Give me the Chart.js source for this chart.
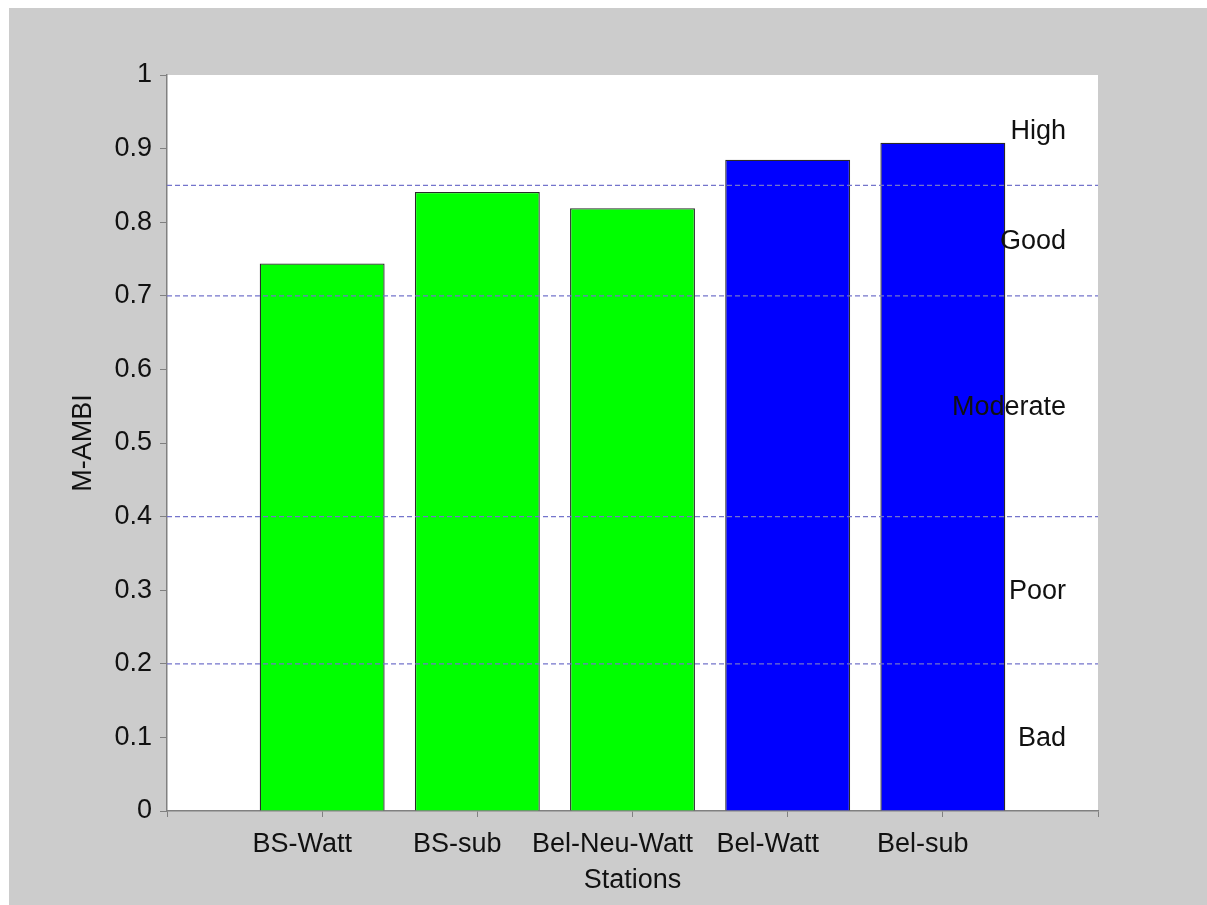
<!DOCTYPE html>
<html lang="en">
<head>
  <meta charset="UTF-8" />
  <title>M-AMBI per station</title>
  <script src="https://cdn.jsdelivr.net/npm/chart.js"></script>
  <style>
    html, body {
      margin: 0;
      padding: 0;
      background: #ffffff;
    }
    .frame {
      position: absolute;
      left: 9px;
      top: 8px;
      width: 1198px;
      height: 897px;
      background: #cccccc;
    }
  </style>
</head>
<body>
<div class="frame">
  <canvas id="ambiChart" width="1198" height="897"></canvas>
</div>

<script>
  // stations on the x axis (blank slots at both ends keep bars off the edges)
  const stations = ['', 'BS-Watt', 'BS-sub', 'Bel-Neu-Watt', 'Bel-Watt', 'Bel-sub', ''];
  const mAmbi = [null, 0.744, 0.841, 0.819, 0.885, 0.908, null];
  const barColours = [null, '#00ff00', '#00ff00', '#00ff00', '#0000ff', '#0000ff', null];

  // ecological status class boundaries and names (Bad .. High)
  const classLimits = [0, 0.2, 0.4, 0.7, 0.85, 1];
  const classNames = ['Bad', 'Poor', 'Moderate', 'Good', 'High'];
  const yTicks = [0, 0.1, 0.2, 0.3, 0.4, 0.5, 0.6, 0.7, 0.8, 0.9, 1];

  const font = { family: 'Arial, "Liberation Sans", sans-serif', size: 27 };

  // one dashed line for each inner boundary
  const boundaryLines = classLimits.slice(1, -1).map((v) => ({
    type: 'line',
    data: stations.map(() => v),
    borderColor: '#7474cc',
    borderWidth: 1.2,
    borderDash: [5, 3],
    pointRadius: 0,
    fill: false,
    order: 0,
  }));

  const plotBackground = {
    id: 'plotBackground',
    beforeDraw(chart) {
      const { ctx, chartArea } = chart;
      ctx.save();
      ctx.fillStyle = '#ffffff';
      ctx.fillRect(chartArea.left, chartArea.top, chartArea.right - chartArea.left, chartArea.bottom - chartArea.top);
      ctx.restore();
    },
  };

  // class names written in the middle of each band
  const classLabels = {
    id: 'classLabels',
    afterDatasetsDraw(chart) {
      const { ctx, chartArea, scales } = chart;
      ctx.save();
      ctx.font = `${font.size}px ${font.family}`;
      ctx.fillStyle = '#111111';
      ctx.textAlign = 'right';
      ctx.textBaseline = 'middle';
      classNames.forEach((name, i) => {
        const mid = (classLimits[i] + classLimits[i + 1]) / 2;
        ctx.fillText(name, chartArea.right - 32, scales.y.getPixelForValue(mid) + 1);
      });
      ctx.restore();
    },
  };

  new Chart(document.getElementById('ambiChart'), {
    type: 'bar',
    data: {
      labels: stations,
      datasets: [
        {
          data: mAmbi,
          backgroundColor: barColours,
          borderColor: '#2a2a2a',
          borderWidth: 1.3,
          barPercentage: 1,
          categoryPercentage: 0.805,
          order: 1,
        },
        ...boundaryLines,
      ],
    },
    options: {
      responsive: false,
      animation: false,
      layout: { padding: { left: 0, right: 109, top: 67, bottom: 0 } },
      plugins: {
        legend: { display: false },
        tooltip: { enabled: false },
      },
      scales: {
        x: {
          offset: false,
          border: { color: '#808080', width: 1.5 },
          grid: { offset: false, drawOnChartArea: false, drawTicks: true, tickLength: 6, color: '#808080' },
          ticks: { color: '#111111', font: font, padding: 11, labelOffset: -20, maxRotation: 0, autoSkip: false },
          title: { display: true, text: 'Stations', color: '#111111', font: font, padding: { top: 0, bottom: 8 } },
          afterFit(scale) { scale.height = 94; },
        },
        y: {
          min: 0,
          max: 1,
          border: { color: '#808080', width: 1.5 },
          grid: { drawOnChartArea: false, drawTicks: true, tickLength: 7, color: '#808080' },
          afterBuildTicks(scale) { scale.ticks = yTicks.map((v) => ({ value: v })); },
          ticks: { color: '#111111', font: font, padding: 8, callback: (v) => String(v) },
          title: { display: true, text: 'M-AMBI', color: '#111111', font: font, padding: { top: 58, bottom: 0 } },
          afterFit(scale) { scale.width = 158; },
        },
      },
    },
    plugins: [plotBackground, classLabels],
  });
</script>
</body>
</html>
